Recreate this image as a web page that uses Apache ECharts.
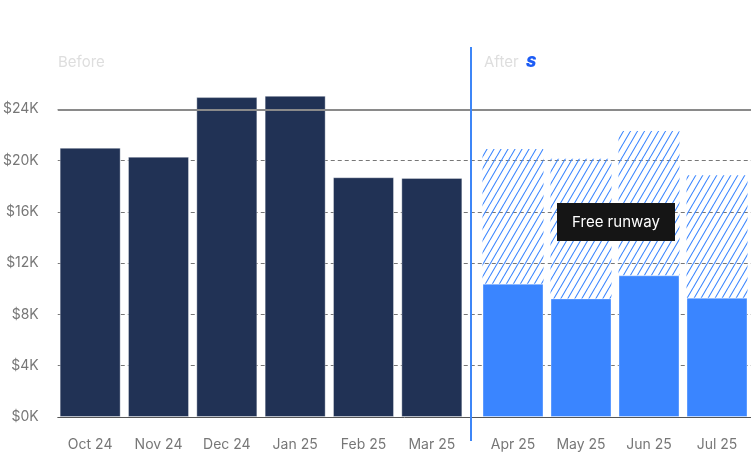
<!DOCTYPE html>
<html>
<head>
<meta charset="utf-8">
<script src="https://cdn.jsdelivr.net/npm/echarts@6/dist/echarts.min.js"></script>
<style>
html,body{margin:0;padding:0;background:#fff;}
#c{width:751px;height:460px;}
</style>
</head>
<body>
<div id="c"></div>
<script>
// ---- data ----
const beforeMonths = ['Oct 24', 'Nov 24', 'Dec 24', 'Jan 25', 'Feb 25', 'Mar 25'];
const afterMonths = ['Apr 25', 'May 25', 'Jun 25', 'Jul 25'];
const beforeValues = [21000, 20300, 24950, 25050, 18700, 18650];
const afterBase = [10400, 9250, 11050, 9300];
const afterFreeRunway = [10500, 10900, 11250, 9550];
const yTicks = [0, 4000, 8000, 12000, 16000, 20000, 24000];
const yMax = 28000;
const referenceLine = 24000;
const beforeLabel = 'Before';
const afterLabel = 'After';
const noteLabel = 'Free runway';

// ---- hatch pattern ----
function hatch() {
  const w = 7, h = 12;
  const c = document.createElement('canvas');
  c.width = w; c.height = h;
  const g = c.getContext('2d');
  g.strokeStyle = '#3b86ff';
  g.lineWidth = 1.1;
  g.beginPath();
  for (let k = -1; k <= 1; k++) {
    g.moveTo(k * w, h);
    g.lineTo(k * w + w, 0);
  }
  g.stroke();
  return c;
}

const FONT = 'Inter, "Noto Sans", sans-serif';
const chart = echarts.init(document.getElementById('c'), null, {renderer: 'canvas'});
const allMonths = beforeMonths.concat(afterMonths);

chart.setOption({
  animation: false,
  textStyle: {fontFamily: FONT},
  grid: [
    {left: 57, right: 0, top: 58, bottom: 43},
    {left: 56, width: 410, top: 58, bottom: 43},
    {left: 479, width: 274, top: 58, bottom: 43}
  ],
  xAxis: [
    {gridIndex: 0, type: 'category', data: allMonths,
     axisLine: {show: true, lineStyle: {color: '#555', width: 1}},
     axisTick: {show: false}, axisLabel: {show: false}, splitLine: {show: false}},
    {gridIndex: 1, type: 'category', data: beforeMonths,
     axisLine: {show: false}, axisTick: {show: false},
     axisLabel: {color: '#777', fontSize: 14, margin: 21, fontFamily: FONT}},
    {gridIndex: 2, type: 'category', data: afterMonths,
     axisLine: {show: false}, axisTick: {show: false},
     axisLabel: {color: '#777', fontSize: 14, margin: 21, fontFamily: FONT}}
  ],
  yAxis: [
    {gridIndex: 0, type: 'value', min: yTicks[0], max: yMax, interval: yTicks[1] - yTicks[0],
     axisLine: {show: false}, axisTick: {show: false},
     axisLabel: {color: '#777', fontSize: 14, margin: 19, showMaxLabel: false, fontFamily: FONT,
       formatter: v => '$' + (v / 1000) + 'K'},
     splitLine: {show: true, showMinLine: false, showMaxLine: false,
       lineStyle: {color: '#777', type: [4, 3], width: 1}}},
    {gridIndex: 1, type: 'value', min: yTicks[0], max: yMax, show: false, splitLine: {show: false}},
    {gridIndex: 2, type: 'value', min: yTicks[0], max: yMax, show: false, splitLine: {show: false}}
  ],
  series: [
    {type: 'line', xAxisIndex: 0, yAxisIndex: 0, data: [], silent: true,
     markLine: {silent: true, symbol: 'none', label: {show: false},
       lineStyle: {color: '#8a8a8a', width: 2, type: 'solid'},
       data: [{yAxis: referenceLine}]}},
    {type: 'bar', xAxisIndex: 1, yAxisIndex: 1, data: beforeValues, barWidth: 61,
     itemStyle: {color: '#213255', borderColor: 'rgba(255,255,255,0.35)', borderWidth: 1}},
    {type: 'bar', xAxisIndex: 2, yAxisIndex: 2, data: afterBase, barWidth: 61, stack: 'after',
     itemStyle: {color: '#3a85ff', borderColor: 'rgba(255,255,255,0.35)', borderWidth: 1}},
    {type: 'bar', xAxisIndex: 2, yAxisIndex: 2, data: afterFreeRunway, barWidth: 61, stack: 'after',
     itemStyle: {color: {image: hatch(), repeat: 'repeat'}}}
  ],
  graphic: [
    {type: 'line', shape: {x1: 471, y1: 47, x2: 471, y2: 441}, z: 50,
     style: {stroke: '#3d86f7', lineWidth: 2}},
    {type: 'text', left: 58, top: 55, z: 50,
     style: {text: beforeLabel, fill: '#dedede', font: '15px ' + FONT}},
    {type: 'text', left: 484, top: 55, z: 50,
     style: {text: afterLabel, fill: '#dedede', font: '15px ' + FONT}},
    {type: 'text', left: 526, top: 55, z: 50,
     style: {text: 'S', fill: '#1c5cf5', font: 'italic 900 15px ' + FONT}},
    {type: 'rect', shape: {x: 557, y: 203, width: 118, height: 38}, z: 60,
     style: {fill: '#151515'}},
    {type: 'text', x: 616, y: 222, z: 61,
     style: {text: noteLabel, fill: '#ffffff', font: '15px ' + FONT, align: 'center', verticalAlign: 'middle'}}
  ]
});
</script>
</body>
</html>
